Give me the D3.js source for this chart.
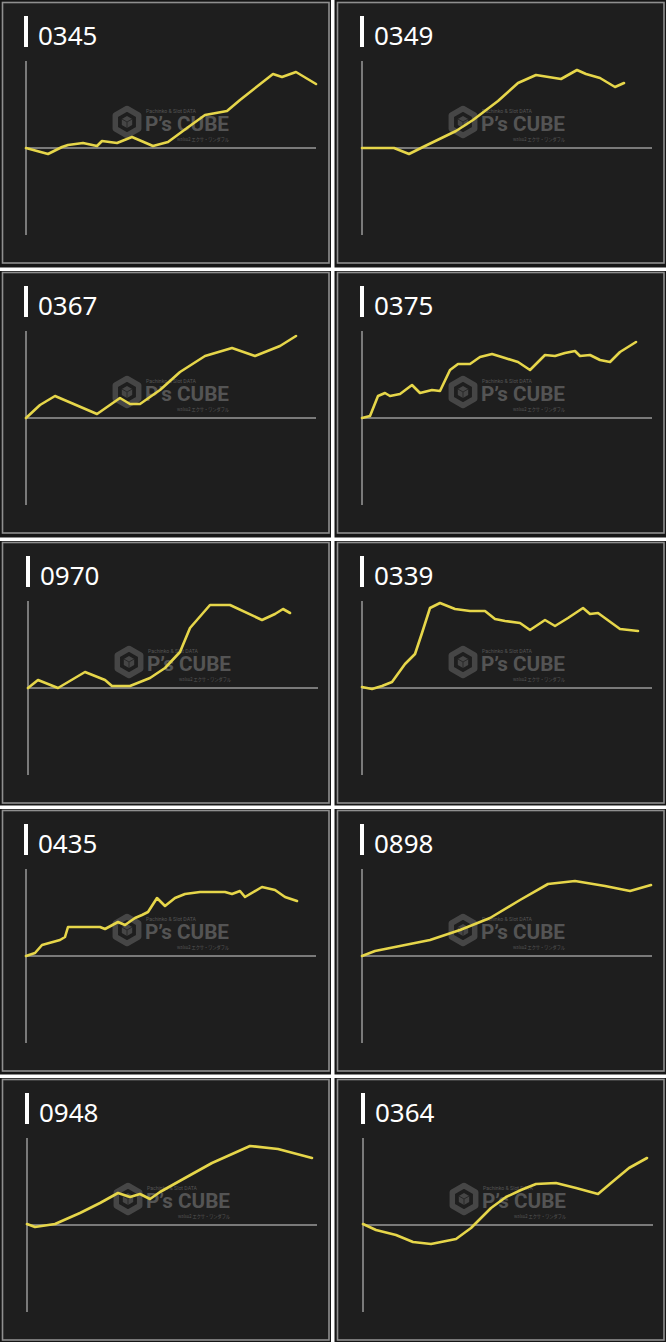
<!DOCTYPE html>
<html>
<head>
<meta charset="utf-8">
<script src="https://cdn.jsdelivr.net/npm/d3@7/dist/d3.min.js"></script>
<style>
  html, body { margin: 0; padding: 0; background: #ffffff; }
  svg { display: block; }
</style>
</head>
<body>
<svg id="chart" width="666" height="1342"></svg>
<script>
// ---- data (game count vs. coin difference) ----
const machineNumbers = ["0345", "0349", "0367", "0375", "0970", "0339", "0435", "0898", "0948", "0364"];

const games_0345 = [0, 660, 1080, 1260, 1710, 2130, 2280, 2730, 3180, 3810, 4260, 4830, 5370, 6030, 6420, 7410, 7680, 8100, 8700];
const coins_0345 = [0, -300, 50, 150, 250, 100, 350, 250, 550, 100, 300, 1000, 1650, 1850, 2400, 3700, 3550, 3800, 3200];

const games_0349 = [0, 960, 1410, 1830, 2820, 3330, 4080, 4680, 5220, 5970, 6450, 6720, 7140, 7590, 7860];
const coins_0349 = [0, 0, -300, 50, 850, 1400, 2350, 3250, 3650, 3450, 3900, 3700, 3500, 3050, 3250];

const games_0367 = [0, 420, 870, 2130, 2820, 3120, 3420, 4020, 4620, 5370, 6180, 6870, 7620, 8100];
const coins_0367 = [0, 650, 1100, 200, 1000, 700, 700, 1400, 2300, 3100, 3500, 3100, 3600, 4100];

const games_0375 = [0, 240, 480, 690, 840, 1140, 1500, 1740, 2100, 2340, 2640, 2880, 3240, 3540, 3900, 4290, 4680, 5040, 5490, 5790, 6090, 6390, 6540, 6840, 7140, 7440, 7740, 8220];
const coins_0375 = [0, 100, 1100, 1250, 1100, 1200, 1650, 1250, 1400, 1350, 2400, 2700, 2700, 3050, 3200, 3000, 2800, 2400, 3150, 3100, 3250, 3350, 3100, 3150, 2900, 2800, 3300, 3800];

const games_0970 = [0, 300, 900, 1710, 2310, 2520, 3060, 3660, 4110, 4560, 4860, 5460, 6060, 7020, 7410, 7650, 7860];
const coins_0970 = [0, 400, 0, 800, 400, 100, 100, 500, 1000, 1800, 3000, 4150, 4150, 3400, 3700, 3950, 3750];

const games_0339 = [0, 300, 600, 900, 1290, 1590, 1800, 2040, 2340, 2790, 3240, 3690, 3990, 4290, 4740, 5040, 5490, 5790, 6180, 6630, 6840, 7080, 7740, 8280];
const coins_0339 = [50, -50, 100, 300, 1200, 1700, 2750, 4000, 4250, 3950, 3850, 3850, 3450, 3350, 3250, 2900, 3400, 3100, 3500, 4000, 3700, 3750, 2950, 2850];

const games_0435 = [0, 270, 480, 1020, 1170, 1260, 2220, 2370, 2760, 2970, 3270, 3480, 3660, 3930, 4170, 4470, 4770, 5220, 5970, 6180, 6420, 6570, 7080, 7470, 7770, 8130];
const coins_0435 = [0, 150, 550, 800, 950, 1450, 1450, 1350, 1700, 1550, 1900, 2050, 2200, 2900, 2500, 2900, 3100, 3200, 3200, 3100, 3250, 2950, 3450, 3300, 2950, 2750];

const games_0898 = [0, 390, 1140, 2040, 2940, 3840, 4740, 5580, 6390, 7290, 8040, 8670];
const coins_0898 = [0, 250, 500, 800, 1300, 1900, 2800, 3600, 3750, 3500, 3250, 3550];

const games_0948 = [0, 240, 840, 1590, 2190, 2730, 3090, 3390, 3690, 3990, 4740, 5550, 6690, 7530, 8550];
const coins_0948 = [50, -100, 50, 600, 1100, 1600, 1400, 1550, 1300, 1650, 2350, 3100, 3950, 3800, 3350];

const games_0364 = [0, 390, 990, 1500, 2040, 2790, 3240, 3840, 4290, 4740, 5190, 5790, 6390, 7050, 7440, 7980, 8520];
const coins_0364 = [50, -250, -500, -850, -950, -700, -150, 850, 1400, 1750, 2050, 2100, 1850, 1550, 2100, 2850, 3350];

const gameDomain = [0, 8700];
const coinDomain = [-4350, 4350];

const seriesTable = [
  [games_0345, coins_0345], [games_0349, coins_0349],
  [games_0367, coins_0367], [games_0375, coins_0375],
  [games_0970, coins_0970], [games_0339, coins_0339],
  [games_0435, coins_0435], [games_0898, coins_0898],
  [games_0948, coins_0948], [games_0364, coins_0364]
].map(([g, c], i) => ({ id: machineNumbers[i], points: g.map((v, j) => ({ g: v, c: c[j] })) }));

// ---- layout ----
const colX = [0, 336];
const rowY = [0, 270, 540, 808, 1077];
const panelShift = [0, 0, 0, 0, 2, 0, 0, 0, 1, 1];

const svg = d3.select("#chart");
svg.append("rect").attr("width", 666).attr("height", 1342).attr("fill", "#161616");

// white separators
svg.append("rect").attr("x", 331).attr("y", 0).attr("width", 3.5).attr("height", 1342).attr("fill", "#ffffff");
rowY.slice(1).forEach(y => {
  svg.append("rect").attr("x", 0).attr("y", y - 2.5).attr("width", 666).attr("height", 3.5).attr("fill", "#ffffff");
});

const yellow = "#e6d64a";

seriesTable.forEach((s, i) => {
  const col = i % 2, row = Math.floor(i / 2);
  const x0 = colX[col], y0 = rowY[row];
  const sh = panelShift[i];
  const g = svg.append("g").attr("transform", `translate(${x0},${y0})`);

  // inner box with grey border
  g.append("rect")
    .attr("x", col === 0 ? 2.5 : 1.5).attr("y", 2.5)
    .attr("width", 326.5).attr("height", 260.5)
    .attr("fill", "#1e1e1e").attr("stroke", "#8f8f8f").attr("stroke-width", 1.6);

  // title
  g.append("rect").attr("x", 24 + sh).attr("y", 16).attr("width", 4).attr("height", 31).attr("fill", "#ffffff");
  g.append("text").attr("x", 38 + sh).attr("y", 45)
    .attr("font-family", "'Noto Sans', 'Open Sans', sans-serif").attr("font-size", 26)
    .attr("fill", "#ffffff").text(s.id);

  // watermark
  const wm = g.append("g").attr("transform", `translate(${127 + sh},122)`).attr("opacity", 0.85);
  const hex = d3.range(6).map(k => {
    const a = Math.PI / 180 * (60 * k - 90);
    return [13.5 * Math.cos(a), 13.5 * Math.sin(a)];
  });
  wm.append("path").attr("d", d3.line()(hex) + "Z")
    .attr("fill", "none").attr("stroke", "#4e4e4e").attr("stroke-width", 5.5).attr("stroke-linejoin", "round");
  const cube = d3.range(6).map(k => {
    const a = Math.PI / 180 * (60 * k - 90);
    return [6 * Math.cos(a), 6 * Math.sin(a)];
  });
  wm.append("path").attr("d", d3.line()(cube) + "Z").attr("fill", "#4e4e4e");
  wm.append("path").attr("d", `M${cube[5][0]},${cube[5][1]}L0,0L${cube[1][0]},${cube[1][1]}M0,0L${cube[3][0]},${cube[3][1]}`)
    .attr("stroke", "#2a2a2a").attr("stroke-width", 1).attr("fill", "none");
  g.append("text").attr("x", 145 + sh).attr("y", 131)
    .attr("font-family", "Roboto, 'DejaVu Sans', sans-serif").attr("font-weight", "bold")
    .attr("font-size", 20).attr("fill", "#545454").attr("textLength", 84).attr("lengthAdjust", "spacingAndGlyphs")
    .text("P’s CUBE");
  g.append("text").attr("x", 146 + sh).attr("y", 112.5)
    .attr("font-family", "Roboto, sans-serif").attr("font-size", 5).attr("fill", "#555")
    .attr("textLength", 50).attr("lengthAdjust", "spacingAndGlyphs").text("Pachinko & Slot DATA");
  g.append("text").attr("x", 177 + sh).attr("y", 141)
    .attr("font-family", "'Noto Sans CJK JP', sans-serif").attr("font-size", 5).attr("fill", "#555")
    .attr("textLength", 52).attr("lengthAdjust", "spacingAndGlyphs").text("walsu2 エクサ・ワンダフル");

  // scales
  const x = d3.scaleLinear().domain(gameDomain).range([26 + sh, 316 + sh]);
  const y = d3.scaleLinear().domain(coinDomain).range([235, 61]);

  // axes lines
  g.append("line").attr("x1", x(0)).attr("x2", x(0)).attr("y1", y(coinDomain[1])).attr("y2", y(coinDomain[0]))
    .attr("stroke", "#9a9a9a").attr("stroke-width", 1.5);
  g.append("line").attr("x1", x(0)).attr("x2", x(gameDomain[1])).attr("y1", y(0)).attr("y2", y(0))
    .attr("stroke", "#9a9a9a").attr("stroke-width", 1.5);

  // series line
  g.append("path").datum(s.points)
    .attr("d", d3.line().x(d => x(d.g)).y(d => y(d.c)))
    .attr("fill", "none").attr("stroke", yellow).attr("stroke-width", 2.6)
    .attr("stroke-linejoin", "round").attr("stroke-linecap", "round");
});
</script>
</body>
</html>
